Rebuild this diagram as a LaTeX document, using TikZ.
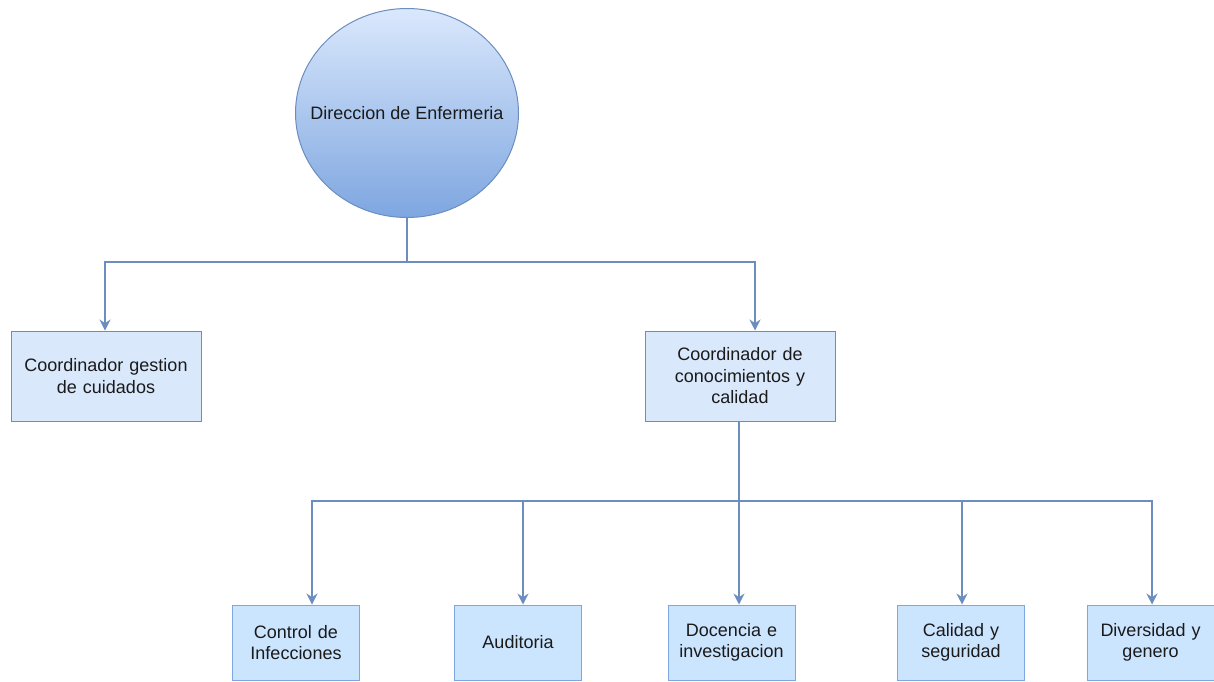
\documentclass[tikz,border=0pt]{standalone}
\usepackage{fontspec}
\setmainfont{Liberation Sans}
\usetikzlibrary{arrows.meta,shapes.geometric,positioning}
\definecolor{edgeblue}{HTML}{6C8EBF}
\definecolor{boxfill}{HTML}{DAE8FC}
\definecolor{subfill}{HTML}{CCE5FF}
\definecolor{subedge}{HTML}{7EA6E0}
\definecolor{headtop}{HTML}{DAE8FC}
\definecolor{headbot}{HTML}{7EA6E0}
\definecolor{textgray}{HTML}{1A1A1A}
\tikzset{
  unit/.style={draw=edgeblue, fill=boxfill, line width=1pt, minimum width=190pt, minimum height=90pt,
    text width=180pt, align=center, inner sep=0pt, text=textgray, font=\fontsize{18}{21.5}\selectfont},
  subunit/.style={unit, fill=subfill, draw=subedge, minimum width=127pt, minimum height=75pt, text width=122pt},
  wire/.style={draw=edgeblue, line width=1.4pt},
  link/.style={wire, -{Stealth[length=11pt,width=11pt]}}
}
\begin{document}
\begin{tikzpicture}[x=1pt,y=-1pt]
  \useasboundingbox (0,0) rectangle (1214,681);
  \node[ellipse, draw=edgeblue, line width=1pt, top color=headtop, bottom color=headbot,
    minimum width=223pt, minimum height=209pt, inner sep=0pt,
    label={[text=textgray, font=\fontsize{18}{21.5}\selectfont]center:Direccion de Enfermeria}]
    (head) at (407,113) {}; %top circle
  \node[unit] (gestion) at (106,376) {Coordinador gestion\\de cuidados};
  \node[unit] (conoc) at (740,376) {Coordinador de\\conocimientos y\\calidad};
  \node[subunit] (ctrl) at (296,642.5) {Control de\\Infecciones};
  \node[subunit] (audit) at (518,642.5) {Auditoria};
  \node[subunit] (docen) at (731.5,642.5) {Docencia e\\investigacion};
  \node[subunit] (calid) at (961,642.5) {Calidad y\\seguridad};
  \node[subunit] (divers) at (1150.5,642.5) {Diversidad y\\genero};
  \coordinate (split1) at (407,262); %first branch
  \coordinate (split2) at (739,501); %second branch
  \draw[wire] (head.south) -- (split1);
  \draw[link] (split1) -| ([xshift=-1pt]gestion.north);
  \draw[link] (split1) -| ([xshift=15pt]conoc.north);
  \draw[wire] (conoc.south -| split2) -- (split2);
  \draw[link] (split2) -| ([xshift=16pt]ctrl.north);
  \draw[link] (split2) -| ([xshift=5pt]audit.north);
  \draw[link] (split2) -- (split2 |- docen.north);
  \draw[link] (split2) -| ([xshift=1pt]calid.north);
  \draw[link] (split2) -| ([xshift=1.5pt]divers.north);
\end{tikzpicture}
\end{document}
